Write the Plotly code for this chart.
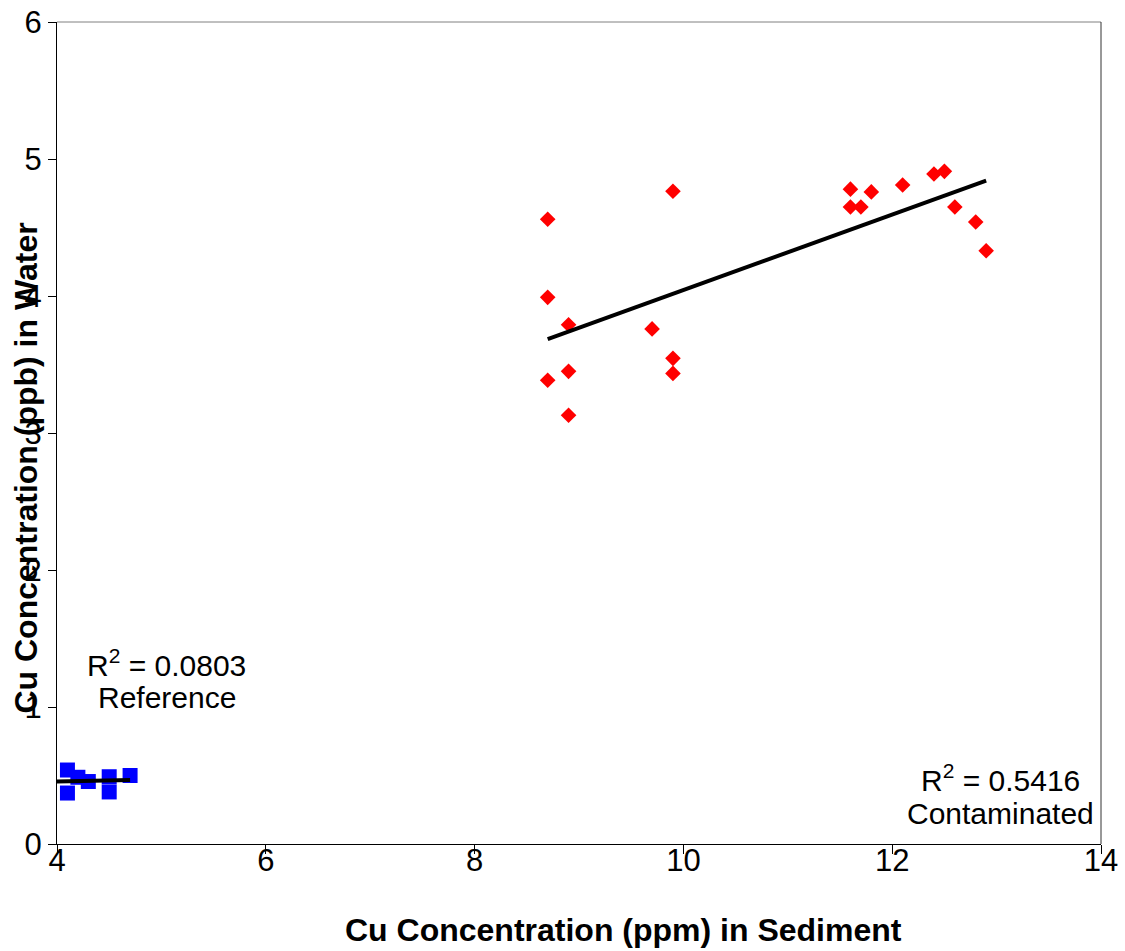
import numpy as np
import plotly.graph_objects as go

# Reference site: Cu in sediment (ppm) vs Cu in water (ppb)
ref_x = [4.1, 4.1, 4.2, 4.3, 4.5, 4.5, 4.7]
ref_y = [0.54, 0.372, 0.487, 0.456, 0.491, 0.38, 0.50]

# Contaminated site
con_x = [8.7, 8.7, 8.9, 8.7, 8.9, 8.9, 9.9, 9.7, 9.9, 9.9,
         11.6, 11.6, 11.7, 11.8, 12.1, 12.4, 12.5, 12.6, 12.8, 12.9]
con_y = [4.56, 3.99, 3.79, 3.385, 3.45, 3.13, 4.765, 3.76, 3.545, 3.435,
         4.78, 4.65, 4.65, 4.76, 4.81, 4.89, 4.91, 4.65, 4.54, 4.33]

x_ticks = [4, 6, 8, 10, 12, 14]
y_ticks = [0, 1, 2, 3, 4, 5, 6]

FONT = "Liberation Sans, Arial, sans-serif"
TICK_SIZE = 31
NOTE_SIZE = 30
TITLE_SIZE = 32


def linear_trend(xs, ys, x_from, x_to):
    slope, intercept = np.polyfit(xs, ys, 1)
    tx = np.array([x_from, x_to])
    return tx, slope * tx + intercept


ref_tx, ref_ty = linear_trend(ref_x, ref_y, 4.0, max(ref_x))
con_tx, con_ty = linear_trend(con_x, con_y, min(con_x), max(con_x))

fig = go.Figure()

fig.add_trace(go.Scatter(
    x=ref_x, y=ref_y, mode="markers", name="Reference",
    marker=dict(symbol="square", size=15, color="#0000FF", line=dict(width=0)),
    cliponaxis=False,
))
fig.add_trace(go.Scatter(
    x=con_x, y=con_y, mode="markers", name="Contaminated",
    marker=dict(symbol="diamond", size=12, color="#FF0000", line=dict(width=0)),
))
fig.add_trace(go.Scatter(
    x=ref_tx, y=ref_ty, mode="lines", showlegend=False,
    line=dict(color="black", width=4),
))
fig.add_trace(go.Scatter(
    x=con_tx, y=con_ty, mode="lines", showlegend=False,
    line=dict(color="black", width=4),
))

fig.update_layout(
    width=1125, height=951,
    margin=dict(l=57, r=24, t=22, b=107, autoexpand=False),
    paper_bgcolor="white", plot_bgcolor="white",
    showlegend=False,
    font=dict(family=FONT, color="black", size=TICK_SIZE),
)

fig.update_xaxes(
    range=[4, 14], tickvals=x_ticks, ticktext=[str(v) for v in x_ticks],
    showgrid=False, zeroline=False, automargin=False,
    showline=True, linecolor="black", linewidth=1,
    ticks="outside", ticklen=9, tickcolor="black", tickwidth=1,
    ticklabelstandoff=-20,
    tickfont=dict(size=TICK_SIZE, family=FONT),
)
fig.update_yaxes(
    range=[0, 6], tickvals=y_ticks, ticktext=[str(v) for v in y_ticks],
    showgrid=False, zeroline=False, automargin=False,
    showline=True, linecolor="black", linewidth=1,
    ticks="outside", ticklen=8, tickcolor="black", tickwidth=1,
    tickfont=dict(size=TICK_SIZE, family=FONT),
)

# plot-area frame: top and right edges
fig.add_shape(type="line", xref="paper", yref="paper", x0=0, x1=1, y0=1, y1=1,
              line=dict(color="#808080", width=1))
fig.add_shape(type="line", xref="paper", yref="paper", x0=1, x1=1, y0=0, y1=1,
              line=dict(color="#333333", width=1))

# axis titles
fig.add_annotation(
    text="<b>Cu Concentration (ppm) in Sediment</b>",
    xref="paper", yref="paper", x=0.543, y=-0.105, yanchor="middle",
    showarrow=False, font=dict(size=TITLE_SIZE, family=FONT),
)
fig.add_annotation(
    text="<b>Cu Concentration (ppb) in Water</b>",
    xref="paper", yref="paper", x=-0.0295, y=0.457, textangle=-90,
    xanchor="center", yanchor="middle",
    showarrow=False, font=dict(size=TITLE_SIZE, family=FONT),
)

# regression labels
notes = [
    ("R<sup>2</sup> = 0.0803", 5.05, 1.32),
    ("Reference", 5.05, 1.07),
    ("R<sup>2</sup> = 0.5416", 13.04, 0.485),
    ("Contaminated", 13.04, 0.22),
]
for text, nx, ny in notes:
    fig.add_annotation(
        text=text, xref="x", yref="y", x=nx, y=ny,
        xanchor="center", yanchor="middle",
        showarrow=False, font=dict(size=NOTE_SIZE, family=FONT),
    )

fig.write_html("out.html")
